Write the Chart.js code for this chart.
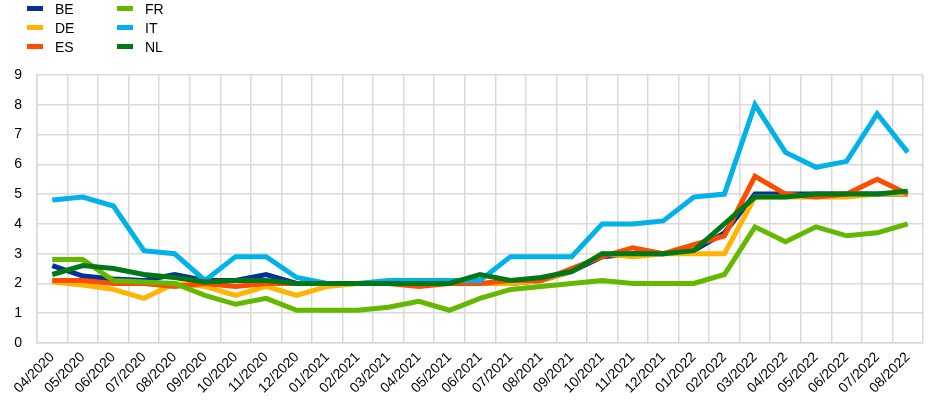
<!DOCTYPE html>
<html>
<head>
<meta charset="utf-8">
<script src="https://cdn.jsdelivr.net/npm/chart.js@4/dist/chart.umd.min.js"></script>
<style>
  html, body { margin: 0; padding: 0; background: #fff; }
  #wrap { position: relative; width: 948px; height: 410px; }
  #chart { position: absolute; left: 0; top: 0; }
  #legend {
    position: absolute; left: 27px; top: -1px;
    display: grid; grid-auto-flow: column; grid-template-rows: repeat(3, 19px);
    grid-template-columns: 90px 90px;
    font-family: "Liberation Sans", Arial, sans-serif; font-size: 14px; color: #000;
  }
  .item { display: flex; align-items: center; height: 19px; }
  .sw { width: 16px; height: 5px; margin-right: 12px; }
</style>
</head>
<body>
<div id="wrap">
  <canvas id="chart" width="948" height="410"></canvas>
  <div id="legend"></div>
</div>
<script>
const months = ["04/2020","05/2020","06/2020","07/2020","08/2020","09/2020","10/2020","11/2020","12/2020",
  "01/2021","02/2021","03/2021","04/2021","05/2021","06/2021","07/2021","08/2021","09/2021","10/2021","11/2021","12/2021",
  "01/2022","02/2022","03/2022","04/2022","05/2022","06/2022","07/2022","08/2022"];

const BE = [2.6,2.25,2.15,2.1,2.3,2.1,2.1,2.3,2.0,2.0,2.0,2.0,2.0,2.0,2.0,2.0,2.1,2.4,2.9,3.0,3.0,3.1,3.7,5.0,5.0,5.0,5.0,5.0,5.0];
const DE = [2.05,1.95,1.8,1.5,2.0,1.9,1.6,1.9,1.6,1.9,2.0,2.0,2.0,2.0,2.0,2.0,2.1,2.4,3.0,2.9,3.0,3.0,3.0,4.9,4.9,4.9,4.9,5.0,5.0];
const ES = [2.1,2.1,2.0,2.0,1.9,2.0,1.9,2.0,2.0,2.0,2.0,2.0,1.9,2.0,2.0,2.1,2.1,2.5,2.9,3.2,3.0,3.3,3.6,5.6,5.0,4.9,5.0,5.5,5.0];
const FR = [2.8,2.8,2.1,2.05,2.0,1.6,1.3,1.5,1.1,1.1,1.1,1.2,1.4,1.1,1.5,1.8,1.9,2.0,2.1,2.0,2.0,2.0,2.3,3.9,3.4,3.9,3.6,3.7,4.0];
const IT = [4.8,4.9,4.6,3.1,3.0,2.1,2.9,2.9,2.2,2.0,2.0,2.1,2.1,2.1,2.1,2.9,2.9,2.9,4.0,4.0,4.1,4.9,5.0,8.0,6.4,5.9,6.1,7.7,6.4];
const NL = [2.3,2.6,2.5,2.3,2.2,2.05,2.1,2.1,2.0,2.0,2.0,2.0,2.0,2.0,2.3,2.1,2.2,2.4,3.0,3.0,3.0,3.1,4.0,4.9,4.9,5.0,5.0,5.0,5.1];

const yTicks = [0,1,2,3,4,5,6,7,8,9];

const seriesNames = ["BE","DE","ES","FR","IT","NL"];
const seriesData = [BE, DE, ES, FR, IT, NL];
const seriesColors = ["#003299","#FFB400","#FF4B00","#65B800","#00B1EA","#007816"];

const datasets = seriesNames.map((n, i) => ({
  label: n,
  data: seriesData[i],
  borderColor: seriesColors[i],
  backgroundColor: seriesColors[i],
  borderWidth: 5,
  pointRadius: 0,
  tension: 0,
  fill: false,
  order: seriesNames.length - 1 - i
}));

const FONT = { family: "'Liberation Sans', Arial, sans-serif", size: 14 };

const chart = new Chart(document.getElementById('chart'), {
  type: 'line',
  data: { labels: months, datasets },
  options: {
    responsive: false,
    animation: false,
    devicePixelRatio: 1,
    layout: { padding: { top: 75, right: 25, bottom: 0, left: 0 } },
    plugins: { legend: { display: false }, tooltip: { enabled: false } },
    scales: {
      x: {
        offset: true,
        grid: { color: '#d9d9d9', lineWidth: 1.5, offset: true, drawTicks: false },
        border: { color: '#d9d9d9', width: 1.5 },
        ticks: { color: '#000', font: FONT, minRotation: 45, maxRotation: 45, autoSkip: false, padding: 6 },
        afterFit: (s) => { s.height = 67; }
      },
      y: {
        min: 0, max: 9,
        afterBuildTicks: (s) => { s.ticks = yTicks.map(v => ({ value: v })); },
        grid: { color: '#d9d9d9', lineWidth: 1.5, drawTicks: false },
        border: { color: '#d9d9d9', width: 1.5 },
        ticks: { color: '#000', font: FONT, padding: 15 },
        afterFit: (s) => { s.width = 37; }
      }
    }
  }
});

const legend = document.getElementById('legend');
chart.data.datasets.forEach(ds => {
  const it = document.createElement('div');
  it.className = 'item';
  const sw = document.createElement('span');
  sw.className = 'sw';
  sw.style.background = ds.borderColor;
  const tx = document.createElement('span');
  tx.textContent = ds.label;
  it.appendChild(sw); it.appendChild(tx);
  legend.appendChild(it);
});
</script>
</body>
</html>
